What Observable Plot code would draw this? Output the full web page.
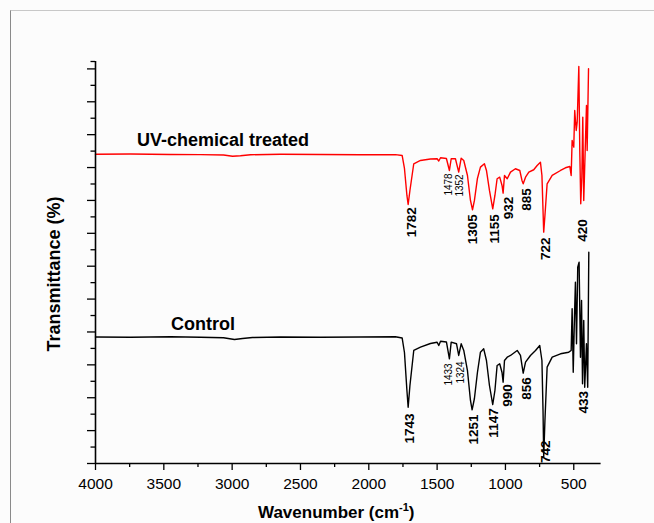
<!DOCTYPE html>
<html>
<head>
<meta charset="utf-8">
<script src="https://cdn.jsdelivr.net/npm/d3@7"></script>
<script src="https://cdn.jsdelivr.net/npm/@observablehq/plot@0.6"></script>
<style>
  html, body { margin: 0; padding: 0; background: #fcfcfc; }
  #wrap { position: relative; width: 654px; height: 523px; overflow: hidden; }
  #frame { position: absolute; left: 10px; top: 10px; width: 660px; height: 530px;
           border-top: 1px solid #c8c8c8; border-left: 1.5px solid #8a8a8a; }
  #chart { position: absolute; left: 0; top: 0; }
</style>
</head>
<body>
<div id="wrap"><div id="frame"></div><div id="chart"></div></div>
<script>
// ---- Data (wavenumber in cm-1, transmittance in arbitrary % units) ----
const redWave = [4000,3744,3451,3232,3063,2997,2939,2866,2646,2354,2061,1805,1756,1739,1721,1712,1699,1671,1622,1549,1500,1488,1475,1432,1410,1397,1366,1342,1324,1305,1278,1256,1241,1227,1205,1183,1154,1139,1117,1093,1077,1061,1042,1025,1017,1007,987,963,927,895,879,870,853,829,793,768,744,733,725,720,711,695,658,597,561,529,519,512,500,493,482,475,463,456,449,441,434,427,420,407,402,392];
const redT    = [94.04,94.13,93.98,93.92,93.80,93.43,93.58,93.89,94.04,93.98,93.89,93.92,93.67,89.72,81.51,78.77,83.03,91.15,92.15,92.61,92.67,92.0,92.98,92.76,89.11,92.67,92.67,88.60,92.85,92.15,87.59,79.99,77.16,79.99,86.68,90.12,91.15,89.11,83.03,77.46,81.51,86.59,87.07,84.55,82.21,87.59,86.59,88.60,89.63,89.11,86.07,85.07,87.07,88.60,89.33,90.63,91.64,87.59,76.95,70.35,75.43,85.07,87.59,89.11,89.93,90.33,87.59,98.24,96.20,107.36,101.28,103.80,120.74,95.20,78.98,87.07,105.32,79.99,90.12,108.88,95.20,120.04];

const blackWave = [4000,3744,3451,3232,3063,2983,2924,2851,2646,2354,2061,1805,1756,1739,1721,1712,1699,1671,1622,1549,1500,1488,1475,1432,1410,1397,1358,1342,1324,1305,1278,1256,1244,1227,1205,1183,1159,1139,1117,1093,1077,1061,1042,1025,1017,1007,987,963,914,890,879,870,853,817,780,749,733,725,720,711,695,658,597,537,519,512,504,495,488,480,471,461,451,443,436,427,420,407,398,390];
const blackT    = [38.47,38.38,38.53,38.38,38.23,37.71,38.02,38.32,38.47,38.38,38.47,38.53,38.17,33.76,22.20,17.12,23.72,34.37,35.37,36.50,36.89,35.88,37.19,36.95,31.84,36.89,36.41,32.85,36.41,34.37,28.27,19.16,16.33,19.77,27.68,33.85,34.88,31.33,23.72,17.94,22.20,29.81,30.32,27.68,24.73,31.33,32.33,32.85,34.37,32.85,29.81,27.46,30.81,32.85,34.37,35.89,31.33,16.12,1.92,13.08,29.29,32.33,33.36,33.85,34.37,47.05,27.77,44.50,55.14,36.41,59.70,61.22,32.33,49.57,24.24,43.49,23.21,36.41,23.21,64.26];

const redPeakText = ["1782","1478","1352","1305","1155","932","885","722","420"];
const redPeakKind = ["major","minor","minor","major","major","major","major","major","major"];
const redPeakX    = [1688,1415,1336,1239,1080,980,848,707,434];
const redPeakY    = [73.39,84.86,84.55,71.26,71.38,77.71,80.29,65.30,70.86];

const blackPeakText = ["1743","1433","1324","1251","1147","990","856","742","433"];
const blackPeakKind = ["major","minor","minor","major","major","major","major","major","major"];
const blackPeakX    = [1702,1415,1329,1232,1085,987,848,707,431];
const blackPeakY    = [10.64,27.07,27.68,10.34,12.32,20.68,22.81,3.56,18.64];

const seriesNames = ["UV-chemical treated", "Control"];
const seriesLabelX = [3067, 3213];
const seriesLabelY = [96.41, 40.45];

const xMajorTicks = [4000,3500,3000,2500,2000,1500,1000,500];
const xMinorTicks = [3750,3250,2750,2250,1750,1250,750];
const yMajorTicks = [0,10,20,30,40,50,60,70,80,90,100,110,120];
const yMinorTicks = [5,15,25,35,45,55,65,75,85,95,105,115,122.25];
const xDomain = [4000, 300];
const yDomain = [0, 122.25];

// ---- Build tables ----
const red = redWave.map((w, i) => ({w, t: redT[i]}));
const black = blackWave.map((w, i) => ({w, t: blackT[i]}));
const peaks = [
  ...redPeakText.map((s, i) => ({s, kind: redPeakKind[i], x: redPeakX[i], y: redPeakY[i]})),
  ...blackPeakText.map((s, i) => ({s, kind: blackPeakKind[i], x: blackPeakX[i], y: blackPeakY[i]}))
];
const names = seriesNames.map((s, i) => ({s, x: seriesLabelX[i], y: seriesLabelY[i]}));

const font = "'Liberation Sans', Arial, Helvetica, sans-serif";

const svg = Plot.plot({
  width: 654,
  height: 523,
  marginLeft: 95,
  marginRight: 53.4,
  marginTop: 61,
  marginBottom: 60,
  style: {background: "transparent", color: "#000", fontFamily: font, overflow: "visible"},
  x: {domain: xDomain},
  y: {domain: yDomain},
  marks: [
    Plot.line(black, {x: "w", y: "t", stroke: "#000", strokeWidth: 1.4}),
    Plot.line(red, {x: "w", y: "t", stroke: "#ff0000", strokeWidth: 1.4}),
    Plot.ruleX([xDomain[0]], {y1: yDomain[0], y2: yDomain[1], stroke: "#000", strokeWidth: 1.6}),
    Plot.ruleY([yDomain[0]], {x1: xDomain[0], x2: xDomain[1], stroke: "#000", strokeWidth: 1.6}),
    Plot.axisX({ticks: xMajorTicks, tickSize: 7, tickPadding: 7, tickFormat: d => String(d),
                fontSize: 15.5, label: null, strokeWidth: 1.3}),
    Plot.axisX({ticks: xMinorTicks, tickSize: 4, tickFormat: () => "", label: null, strokeWidth: 1.3}),
    Plot.axisY({ticks: yMajorTicks, tickSize: 8, tickFormat: () => "", label: null, strokeWidth: 1.3}),
    Plot.axisY({ticks: yMinorTicks, tickSize: 4.5, tickFormat: () => "", label: null, strokeWidth: 1.3}),
    Plot.text(peaks.filter(d => d.kind === "major"), {x: "x", y: "y", text: "s", rotate: -90,
              textAnchor: "middle", lineAnchor: "middle", fontSize: 13.5, fontWeight: "bold", fill: "#000"}),
    Plot.text(peaks.filter(d => d.kind === "minor"), {x: "x", y: "y", text: "s", rotate: -90,
              textAnchor: "middle", lineAnchor: "middle", fontSize: 10, fill: "#000"}),
    Plot.text(names, {x: "x", y: "y", text: "s", textAnchor: "middle", lineAnchor: "bottom",
              fontSize: 18, fontWeight: "bold", fill: "#000"})
  ]
});

// axis titles
const s = d3.select(svg);
const xt = s.append("text")
  .attr("x", 258).attr("y", 518)
  .attr("text-anchor", "start")
  .attr("font-family", font).attr("font-size", 17).attr("font-weight", "bold").attr("fill", "#000");
xt.append("tspan").text("Wavenumber (cm");
xt.append("tspan").attr("dy", "-7").attr("font-size", 11).text("-1");
xt.append("tspan").attr("dy", "7").text(")");

s.append("text")
  .attr("transform", "translate(60,274) rotate(-90)")
  .attr("text-anchor", "middle")
  .attr("font-family", font).attr("font-size", 18).attr("font-weight", "bold").attr("fill", "#000")
  .text("Transmittance (%)");

document.getElementById("chart").appendChild(svg);
</script>
</body>
</html>
